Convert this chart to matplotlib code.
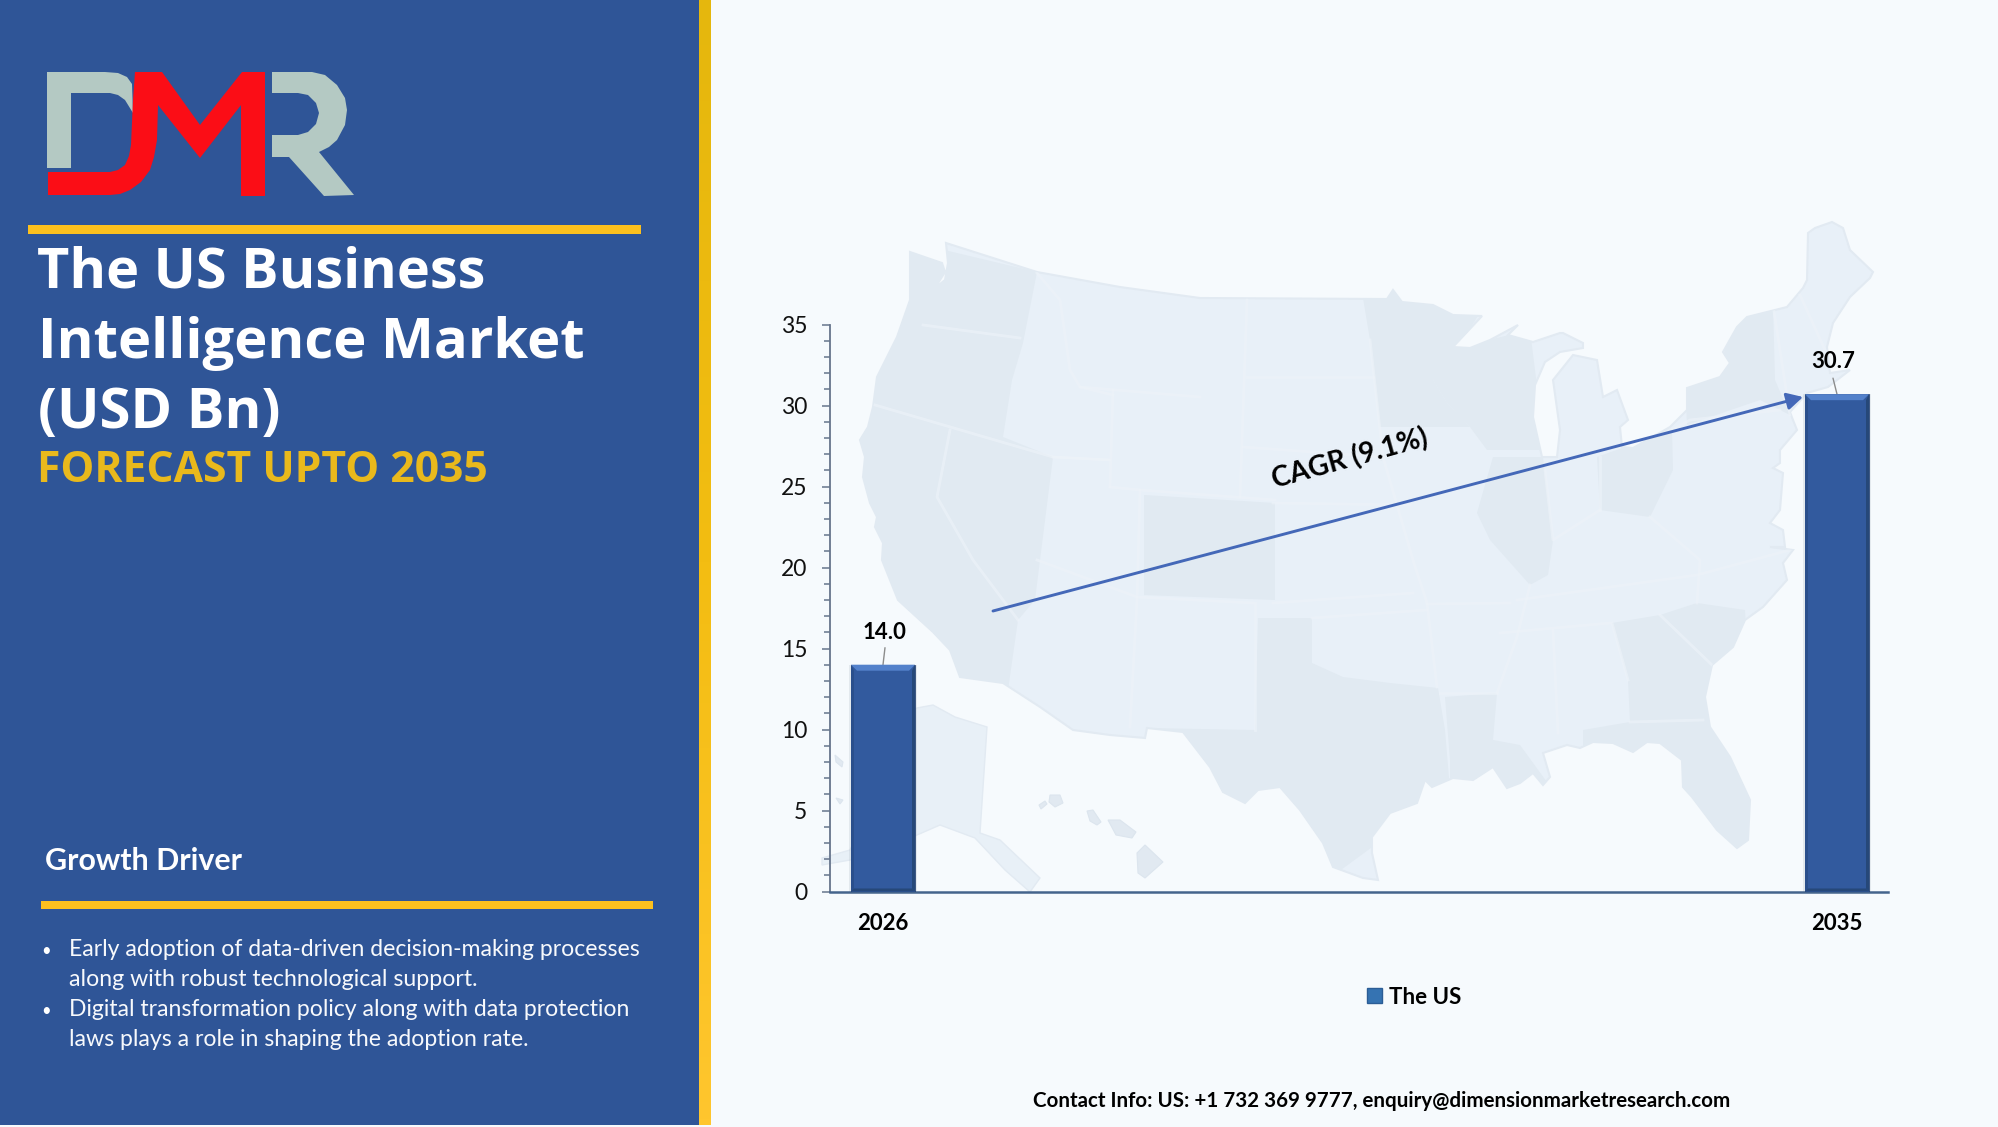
import numpy as np
import matplotlib
matplotlib.use("Agg")
import matplotlib.pyplot as plt
from matplotlib.patches import Polygon, Rectangle, FancyArrowPatch, Patch
from matplotlib.colors import LinearSegmentedColormap
from matplotlib.ticker import MultipleLocator

# ---- data ----
years = [2026, 2035]
values = [14.0, 30.7]
series_name = "The US"
yticks = [0, 5, 10, 15, 20, 25, 30, 35]
title_lines = ["The US Business", "Intelligence Market", "(USD Bn)"]
subtitle = "FORECAST UPTO 2035"
driver_heading = "Growth Driver"
driver_lines = ["Early adoption of data-driven decision-making processes",
                "along with robust technological support.",
                "Digital transformation policy along with data protection",
                "laws plays a role in shaping the adoption rate."]
cagr_label = "CAGR (9.1%)"
contact = "Contact Info: US: +1 732 369 9777, enquiry@dimensionmarketresearch.com"

# ---- decoration outlines, in image pixels ----
us_outline = [(910,252),(942,263),(945,272),(935,288),(945,280),(948,263),(946,243),(1037,272),(1120,287),(1200,298),
    (1387,299),(1393,290),(1402,302),(1433,305),(1453,315),(1482,316),(1453,347),(1470,348),(1490,340),(1518,325),
    (1508,335),(1533,342),(1560,333),(1563,333),(1583,343),(1583,348),(1560,352),(1545,362),(1535,385),(1533,417),
    (1542,457),(1557,457),(1560,430),(1553,380),(1573,355),(1597,360),(1603,397),(1617,390),(1628,420),(1620,427),
    (1622,447),(1633,448),(1670,427),(1687,410),(1687,388),(1720,377),(1730,363),(1723,352),(1737,327),(1747,317),
    (1787,307),(1803,288),(1807,280),(1808,233),(1815,228),(1832,222),(1843,228),(1850,250),(1873,272),(1870,278),
    (1850,297),(1833,323),(1827,347),(1830,373),(1850,370),(1828,387),(1807,393),(1790,412),(1793,420),(1797,430),
    (1780,450),(1780,463),(1773,468),(1783,473),(1780,510),(1770,523),(1783,530),(1785,547),(1770,547),(1793,550),
    (1783,563),(1787,580),(1763,607),(1745,620),(1733,647),(1712,665),(1705,697),(1710,727),(1730,757),(1750,800),
    (1748,840),(1737,848),(1717,830),(1692,797),(1683,787),(1682,760),(1660,743),(1647,742),(1633,752),(1613,743),
    (1593,742),(1580,748),(1567,745),(1543,753),(1550,777),(1543,785),(1533,773),(1520,783),(1507,788),(1493,767),
    (1473,780),(1453,778),(1432,787),(1425,780),(1417,803),(1390,813),(1372,837),(1372,853),(1378,880),(1363,878),
    (1333,867),(1323,843),(1300,810),(1280,787),(1258,790),(1245,803),(1223,792),(1210,767),(1183,732),(1147,728),
    (1145,738),(1110,735),(1073,730),(1040,707),(1003,683),(960,677),(950,650),(933,632),(898,600),(890,580),
    (882,560),(883,543),(875,527),(877,517),(870,503),(863,477),(865,457),(860,440),(868,427),(873,407),(877,377),
    (897,337),(910,300)]
dark_states = [
    [(860,230),(1037,272),(1023,343),(1012,380),(1003,437),(1053,457),(1040,560),(1035,600),(1018,620),(1008,690),(860,690)],
    [(1144,495),(1275,503),(1275,600),(1144,595)],
    [(1258,618),(1312,618),(1312,663),(1343,677),(1390,683),(1438,688),(1445,730),(1450,790),(1300,900),(1150,740),(1147,728),(1255,730)],
    [(1445,697),(1497,693),(1493,740),(1520,745),(1560,800),(1450,800),(1450,760)],
    [(1360,280),(1500,280),(1460,345),(1445,357),(1433,380),(1447,403),(1470,427),(1380,427),(1370,340)],
    [(1447,350),(1530,330),(1545,450),(1487,450),(1470,427),(1447,403),(1433,380)],
    [(1493,457),(1543,457),(1553,540),(1548,575),(1530,585),(1490,540),(1477,513)],
    [(1597,457),(1672,430),(1673,470),(1650,517),(1600,510)],
    [(1685,380),(1720,370),(1725,350),(1740,320),(1773,305),(1775,380),(1790,415),(1760,400),(1687,425)],
    [(1612,623),(1660,615),(1697,603),(1745,610),(1760,900),(1583,900),(1583,730),(1630,722),(1628,680)],
]
state_lines = [
    [(923,325),(1020,338)], [(875,405),(1053,457),(1110,460)], [(950,430),(937,497),(973,560),(1018,620)],
    [(1037,273),(1060,300),(1070,370),(1080,387),(1113,395)], [(1080,387),(1200,397)], [(1113,390),(1110,487)],
    [(1053,457),(1110,460)], [(1110,487),(1140,490),(1275,500)], [(1140,490),(1137,600),(1130,727)],
    [(1037,560),(1137,597),(1253,603)], [(1255,603),(1255,730)], [(1247,300),(1240,497)], [(1247,377),(1373,377)],
    [(1243,447),(1383,457)], [(1273,503),(1410,505)], [(1273,603),(1413,593)], [(1312,618),(1427,610)],
    [(1370,340),(1383,457),(1413,560),(1427,603),(1437,687)], [(1427,604),(1510,603)], [(1440,693),(1497,693)],
    [(1497,693),(1517,637),(1530,585)], [(1500,633),(1610,623)], [(1553,630),(1558,733)], [(1517,600),(1697,575),(1790,550)],
    [(1545,470),(1553,540),(1600,510)], [(1600,457),(1600,510)], [(1672,430),(1690,420),(1780,410)],
    [(1650,517),(1700,560),(1697,603)], [(1773,305),(1790,415)], [(1800,295),(1825,350)], [(1660,615),(1712,665)],
    [(1628,680),(1612,623)], [(1630,722),(1703,720)],
]
alaska = [(917,708),(933,705),(955,717),(987,727),(980,833),(1000,840),(1040,878),(1030,892),(1005,870),(975,838),
    (940,825),(917,835),(850,860),(822,865),(822,858),(850,850),(855,840),(855,740)]
islands = [[(1050,795),(1060,795),(1063,803),(1055,807),(1049,802)], [(1039,805),(1045,801),(1047,804),(1041,809)],
    [(1087,811),(1093,810),(1101,822),(1097,825),(1090,821)], [(1108,820),(1120,820),(1136,832),(1132,838),(1116,835)],
    [(1137,853),(1145,845),(1163,862),(1145,878),(1138,873)], [(835,755),(843,762),(842,767),(836,762)],
    [(836,798),(843,800),(840,804)]]
logo_red = [(48,172),(110,172),(118,170),(125,165),(129,156),(131,145),(133,100),(135,72),(162,72),(200,125),(242,72),(265,72),(265,196),
    (241,196),(241,105),(200,158),(158,105),(157,140),(154,157),(150,170),(141,182),(130,190),(120,194),(110,195),(48,195)]
logo_d = [(47,72),(105,72),(118,73),(127,77),(132,84),(133,113),(125,100),(118,95),(110,93),(71,93),(71,168),(47,168)]
logo_r = [(272,72),(312,72),(325,75),(337,85),(345,98),(347,110),(345,125),(337,140),(329,147),(319,152),(354,195),(324,196),(289,157),(272,157),(272,135),
    (298,135),(308,132),(316,124),(319,113),(316,103),(308,95),(298,93),(272,93)]

W, H = 1999, 1127
BG = "#f6fafd"; PANEL = "#2f5597"; GOLD = "#fcc01e"
LATO = ["Lato", "DejaVu Sans"]; OPEN = ["Open Sans", "DejaVu Sans"]

fig = plt.figure(figsize=(W/100, H/100), dpi=100, facecolor=BG)
bg = fig.add_axes([0, 0, 1, 1], zorder=0)
bg.set_axis_off()
bg.set_xlim(0, W); bg.set_ylim(H, 0)

# ---- left panel ----
bg.add_patch(Rectangle((0, 0), 699, 1125, fc=PANEL, ec="none"))
grad = LinearSegmentedColormap.from_list("g", ["#e5b70d", "#f3bd12", "#ffc62e"])
bg.imshow(np.linspace(0, 1, 200)[:, None], extent=(699, 711, 1125, 0), cmap=grad, aspect="auto", zorder=1)
bg.set_xlim(0, W); bg.set_ylim(H, 0)
bg.add_patch(Rectangle((28, 225), 613, 9, fc=GOLD, ec="none", zorder=2))
bg.add_patch(Rectangle((41, 901), 612, 8, fc=GOLD, ec="none", zorder=2))
bg.add_patch(Polygon(logo_d, fc="#b4c9c3", ec="none", zorder=2))
bg.add_patch(Polygon(logo_r, fc="#b4c9c3", ec="none", zorder=2))
bg.add_patch(Polygon(logo_red, fc="#fb0d16", ec="none", zorder=3))

# ---- map ----
main = Polygon(us_outline, fc="#e8f0f8", ec="#e2eaf2", lw=1.5, zorder=1)
bg.add_patch(main)
for s in dark_states:
    p = Polygon(s, fc="#e1eaf2", ec="none", zorder=1.1)
    bg.add_patch(p); p.set_clip_path(main)
for s in state_lines:
    xs, ys = zip(*s)
    l, = bg.plot(xs, ys, color="#edf3f9", lw=2, alpha=.65, zorder=1.2)
    l.set_clip_path(main)
bg.add_patch(Polygon(alaska, fc="#e8f0f7", ec="#e2eaf2", lw=1, zorder=1))
for s in islands:
    bg.add_patch(Polygon(s, fc="#e1e9f1", ec="#dce5ee", lw=0.8, zorder=1))

# ---- text helper ----
def fit(s, x, base, width, size, family, weight="bold", color="white", ha="left", rot=0):
    t = bg.text(x, base, s, fontsize=size, family=family, weight=weight, color=color,
                ha=ha, va="baseline", rotation=rot, rotation_mode="anchor", zorder=6)
    fig.canvas.draw()
    w = t.get_window_extent().width
    t.set_fontsize(size * width / w)
    return t

fit(title_lines[0], 37, 287, 449, 36, OPEN)
fit(title_lines[1], 38, 358, 548, 36, OPEN)
fit(title_lines[2], 38, 428, 243, 36, OPEN)
fit(subtitle, 37, 482, 451, 25, OPEN, color="#e9b91c")
fit(driver_heading, 45, 870, 197, 20, LATO)
for s, b, w in zip(driver_lines, [956, 986, 1016, 1046], [573, 410, 562, 462]):
    fit(s, 69, b, w, 16, LATO, weight="normal", color="#f7f9fc")
for b in [956, 1016]:
    bg.text(46, b, "\u2022", fontsize=12, family=LATO, color="white", ha="center", va="baseline", zorder=6)
fit(contact, 1033, 1107, 698, 15, LATO, color="black")

# ---- chart ----
ax = fig.add_axes([830/W, 1-891.5/H, 1060/W, 567/H], zorder=2)
ax.patch.set_alpha(0)
ax.set_xlim(2025.5, 2035.5); ax.set_ylim(0, 35)
px, py = 1060/10, 567/35
bar_w = 64/px
bars = ax.bar(years, values, width=bar_w, color="#325a9e", edgecolor="#1f3a68", linewidth=0.5, zorder=3, label=series_name)
for x, v in zip(years, values):
    x0, x1 = x - bar_w/2, x + bar_w/2
    bx, by = 6/px, 6/py
    ax.add_patch(Rectangle((x0-2/px, 0), 2/px, v, fc="#9aa6b5", alpha=.2, ec="none", zorder=2.5))
    ax.add_patch(Rectangle((x1, 0), 2/px, v, fc="#9aa6b5", alpha=.2, ec="none", zorder=2.5))
    ax.add_patch(Polygon([(x0, v), (x1, v), (x1-bx, v-by), (x0+bx, v-by)], fc="#5381cb", ec="none", zorder=4))
    ax.add_patch(Polygon([(x0, v), (x0+bx/2, v-by), (x0+bx/2, by/2), (x0, 0)], fc="#2a4f8c", ec="none", zorder=4))
    ax.add_patch(Polygon([(x1, v), (x1-bx/2, v-by), (x1-bx/2, by/2), (x1, 0)], fc="#264879", ec="none", zorder=4))
    ax.add_patch(Polygon([(x0, 0), (x1, 0), (x1-bx/2, by/2), (x0+bx/2, by/2)], fc="#264879", ec="none", zorder=4))
for x, v, off, lead in zip(years, values, [(1, 26), (-4, 26)], [(2, 17), (-4, 16)]):
    ax.annotate(f"{v:.1f}", xy=(x, v), xytext=off, textcoords="offset pixels", ha="center", va="baseline",
                fontsize=16, family=LATO, weight="bold", color="black", zorder=6, annotation_clip=False)
    ax.annotate("", xy=(x, v), xytext=lead, textcoords="offset pixels",
                arrowprops=dict(arrowstyle="-", color="#8c8c8c", lw=1, shrinkA=0, shrinkB=0), zorder=2)

ax.spines[["top", "right"]].set_visible(False)
ax.spines["left"].set_color("#66758c"); ax.spines["left"].set_linewidth(1.3)
ax.spines["bottom"].set_color("#44648c"); ax.spines["bottom"].set_linewidth(1.8)
ax.spines["bottom"].set_bounds(2025.5, 2035.48)
ax.set_yticks(yticks)
ax.yaxis.set_minor_locator(MultipleLocator(1))
ax.tick_params(axis="y", which="major", length=5.8, width=1.1, color="#66758c", pad=10.5,
               labelsize=16.5, labelfontfamily="Lato", labelcolor="#111111")
ax.tick_params(axis="y", which="minor", length=4.2, width=1.1, color="#66758c")
ax.set_xticks(years)
ax.set_xticklabels([str(y) for y in years], fontsize=16, family=LATO, weight="bold", color="black")
ax.tick_params(axis="x", length=0, pad=15.5)

leg = ax.legend(handles=[Patch(fc="#3573b2", ec="#2b5d96", label=series_name)], loc="center",
                bbox_to_anchor=(1414/W, 1-997/H), bbox_transform=fig.transFigure, frameon=False,
                handlelength=0.68, handleheight=0.68, handletextpad=0.3, prop=dict(family="Lato", weight="bold", size=16))

# ---- CAGR arrow ----
bg.add_patch(FancyArrowPatch((993, 611), (1803, 397), arrowstyle="-|>,head_length=6,head_width=3.2", mutation_scale=1.6,
                             color="#4468b8", lw=2.1, shrinkA=0, shrinkB=0, zorder=5))
fit(cagr_label, 1275, 489, 162, 20, LATO, color="black", rot=15.5)

fig.savefig("out.png", dpi=100, facecolor=BG)
